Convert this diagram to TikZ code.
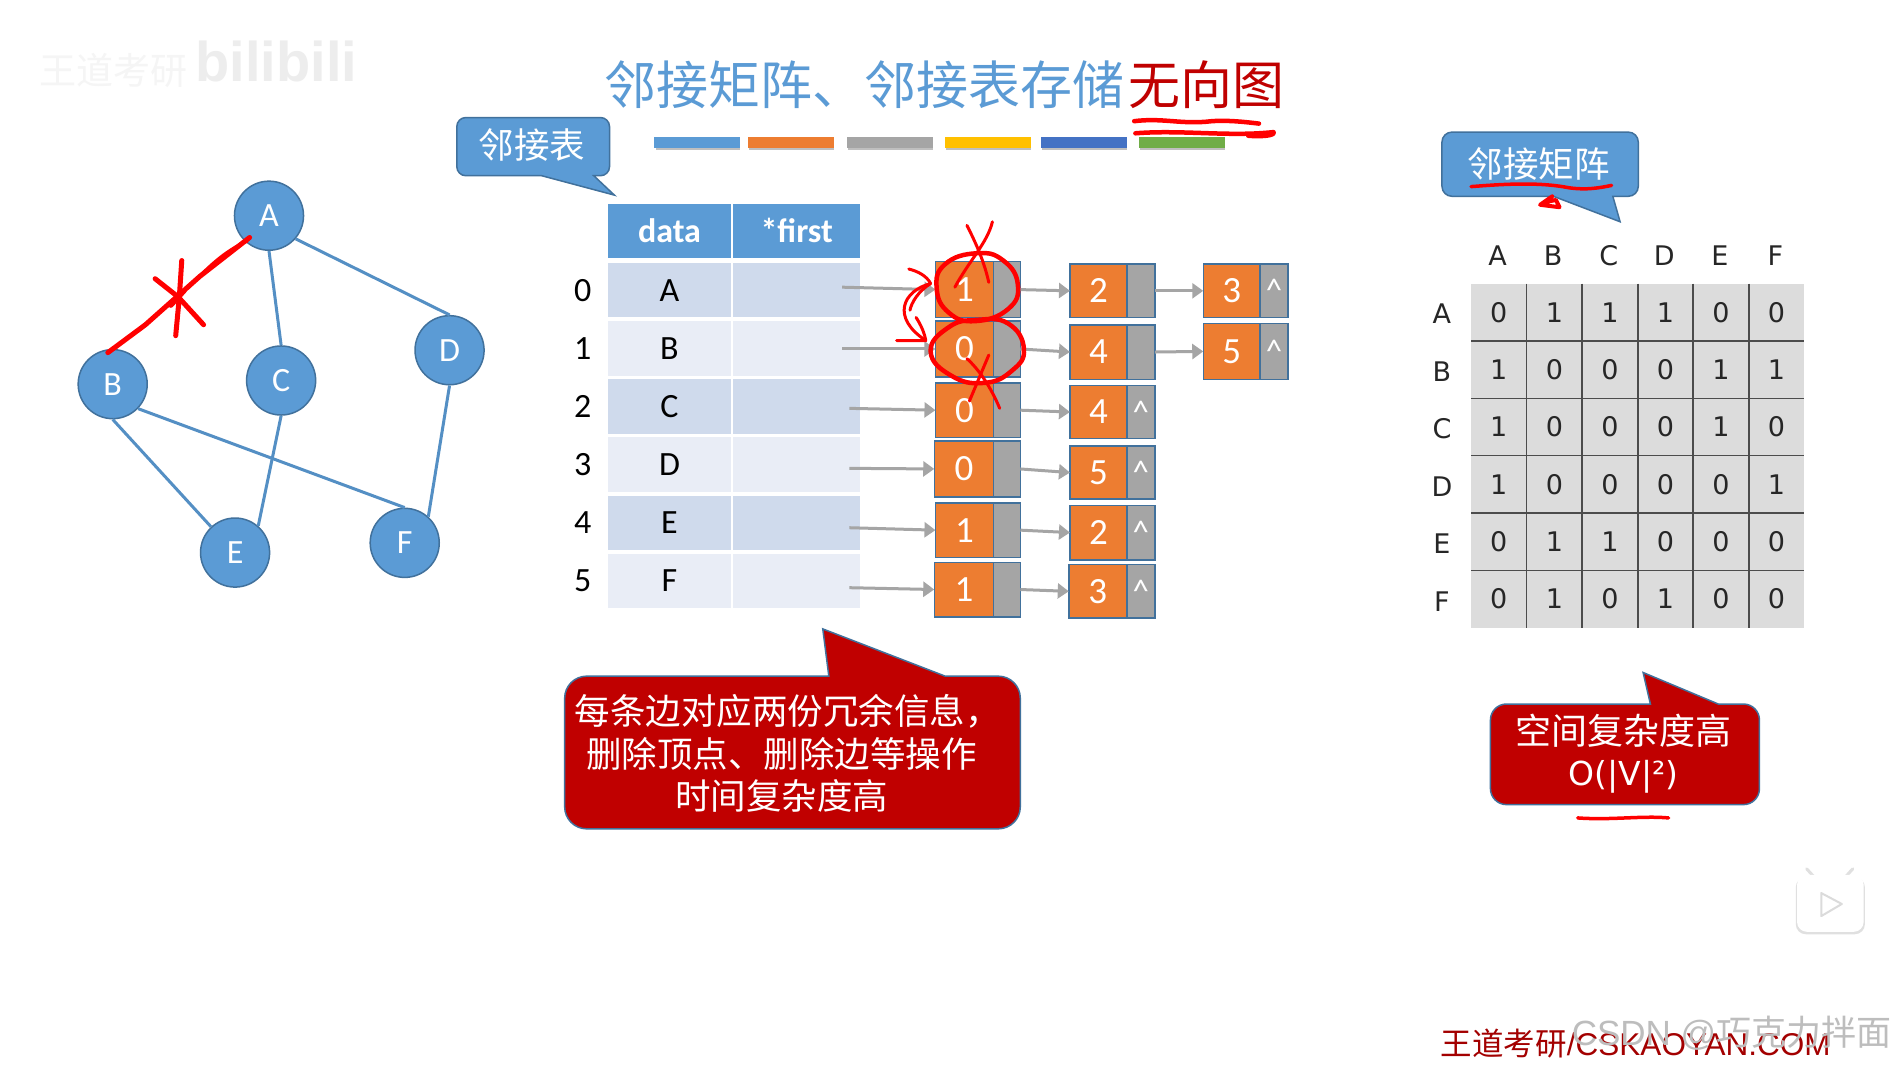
\documentclass[tikz,border=0pt]{standalone}
\usepackage{fontspec}
\usetikzlibrary{arrows.meta}
\setmainfont{Carlito}
\newfontfamily\cjk{Noto Sans CJK SC}
\newfontfamily\wide{DejaVu Sans}
\newfontfamily\arial{Liberation Sans}
\newcommand{\fs}[1]{\fontsize{#1}{#1}\selectfont}
\definecolor{pblue}{HTML}{5B9BD5}
\definecolor{pbord}{HTML}{41719C}
\definecolor{porange}{HTML}{ED7D31}
\definecolor{pgray}{HTML}{A5A5A5}
\definecolor{pred}{HTML}{C00000}
\definecolor{rowa}{HTML}{CFDAEC}
\definecolor{rowb}{HTML}{E9EDF6}
\definecolor{matcell}{HTML}{DCDCDC}
\def\u{1.2117pt}
\tikzset{
  x=1.2117pt,y=-1.2117pt,
  vertex/.style={circle,fill=pblue,draw=pbord,line width=1.5pt,minimum size=57*\u,inner sep=0pt,text=white,font=\fs{34}},
  edge/.style={draw=pblue!92!black,line width=3pt},
  cell/.style={anchor=north west,inner sep=0pt,outer sep=0pt,font=\fs{34}},
  headcell/.style={cell,fill=pblue,text=white,font=\bfseries\fs{34}},
  orangebox/.style={anchor=north west,fill=porange,draw=pbord,line width=1.5pt,inner sep=0pt,outer sep=0pt,text=white,font=\fs{37}},
  graybox/.style={anchor=north west,fill=pgray,draw=pbord,line width=1.5pt,inner sep=0pt,outer sep=0pt,text=white,font=\fs{33}},
  link/.style={draw=pgray,line width=3pt,-{Triangle[length=11pt,width=15pt]}},
  bluecall/.style={fill=pblue,draw=pbord,line width=1.5pt},
  redcall/.style={fill=pred,draw=pbord,line width=1.5pt},
  calltext/.style={text=white,font=\cjk\fs{35.5},inner sep=0pt,align=center},
  redink/.style={draw=red,line width=4.5pt,line cap=round,line join=round},
  matlabel/.style={font=\wide\fs{27},text=black!85,inner sep=0pt},
  colorbar/.style={inner sep=0pt,outer sep=0pt,anchor=north west,minimum width=71*\u,minimum height=9*\u},
}
\newcommand{\lnode}[8]{% name x-left y-top height value ptr orangew grayw
  \node[orangebox,minimum width=#7*\u,minimum height=#4*\u] (#1o) at (#2,#3) {#5};
  \node[graybox,minimum width=#8*\u,minimum height=#4*\u,anchor=north west] (#1g) at (#2+#7,#3) {#6};
}
\begin{document}
\begin{tikzpicture}
\useasboundingbox[fill=white] (0,0) rectangle (1568,879);

% watermark top left
\node[text=black!4,font=\cjk\fs{37},inner sep=0pt] (wmcn) at (94,58) {王道考研};
\node[text=black!7,font=\bfseries\arial\fs{56},inner sep=0pt] (wmbl) at (228,51) {bilibili};

% title
\node[anchor=west,inner sep=0pt,text=pblue,font=\cjk\fs{52}] (title) at (499,70) {邻接矩阵、邻接表存储};
\node[anchor=west,inner sep=0pt,text=pred,font=\cjk\fs{52}] (titleb) at (931,70) {无向图};

% colour bars
\foreach \xa/\c [count=\i] in {540/5B9BD5,617/ED7D31,699/A5A5A5,780/FFC000,859/4472C4,940/70AD47}{
  \definecolor{barc}{HTML}{\c}
  \fill[black!25] (\xa+1,122) rectangle (\xa+71,124);
  \node[colorbar,fill=barc] (bar\i) at (\xa,113) {};
}

% graph
\node[vertex] (A) at (222,178) {A};
\node[vertex] (B) at (93,317) {B};
\node[vertex] (C) at (232,314) {C};
\node[vertex] (D) at (371,289) {D};
\node[vertex] (E) at (194,456) {E};
\node[vertex] (F) at (334,448) {F};
\draw[edge] (A.-41) -- (D.north);
\draw[edge] (A.south) -- (C.north);
\draw[edge] (B.south) -- (E.133);
\draw[edge] (B.-44) -- (F.north);
\draw[edge] (C.south) -- (E.49);
\draw[edge] (D.south) -- (F.48);

% adjacency list table
\node[headcell,minimum width=101*\u,minimum height=45*\u] (hdata) at (502,168) {data};
\node[headcell,minimum width=105*\u,minimum height=45*\u] (hfirst) at (605,168) {*first};
\foreach \yy/\hh/\lab/\c [count=\i from 0] in {217/45/A/rowa,265/45/B/rowb,313/45/C/rowa,361/45/D/rowb,409/45/E/rowa,457/45/F/rowb}{
  \node[cell,fill=\c,minimum width=101*\u,minimum height=\hh*\u] (d\i) at (502,\yy) {\lab};
  \node[cell,fill=\c,minimum width=105*\u,minimum height=\hh*\u] (f\i) at (605,\yy) {};
  \node[inner sep=0pt,font=\fs{34}] (idx\i) at (481,\yy+22.5) {\i};
}

% list nodes: first column
\lnode{pa}{772}{216}{46}{1}{}{48}{22}
\lnode{pb}{772}{265}{46}{0}{}{48}{22}
\lnode{pc}{772}{316}{45}{0}{}{48}{22}
\lnode{pd}{771}{364}{46}{0}{}{49}{22}
\lnode{pe}{772}{415}{45}{1}{}{48}{22}
\lnode{pf}{771}{464}{45}{1}{}{49}{22}
% second column
\lnode{qa}{883}{218}{44}{2}{}{47}{23}
\lnode{qb}{883}{268}{45}{4}{}{47}{23}
\lnode{qc}{883}{318}{44}{4}{\textasciicircum}{47}{23}
\lnode{qd}{883}{368}{44}{5}{\textasciicircum}{47}{23}
\lnode{qe}{883}{417}{45}{2}{\textasciicircum}{47}{23}
\lnode{qf}{882}{466}{44}{3}{\textasciicircum}{48}{23}
% third column
\lnode{ra}{993}{218}{44}{3}{\textasciicircum}{47}{23}
\lnode{rb}{993}{267}{46}{5}{\textasciicircum}{47}{23}

% list links
\coordinate (sa) at (695,237);
\coordinate (sb) at (695,288);
\coordinate (sc) at (701,337);
\coordinate (sd) at (701,386.5);
\coordinate (se) at (701,435.5);
\coordinate (sf) at (701,485);
\foreach \n in {a,b,c,d,e,f}{
  \draw[link] (s\n) -- (p\n o.west);
  \draw[link] (p\n g.east) -- (q\n o.west);
}
\draw[link] (qag.east) -- (rao.west);
\draw[link] (qbg.east) -- (rbo.west);

% matrix
\foreach \l [count=\i from 0] in {A,B,C,D,E,F}{
  \node[matlabel] (ch\i) at (1236+\i*45.83,211) {\l};
  \node[matlabel] (rh\i) at (1190,259+\i*47.5) {\l};
}
\foreach \row [count=\r from 0] in {{0,1,1,1,0,0},{1,0,0,0,1,1},{1,0,0,0,1,0},{1,0,0,0,0,1},{0,1,1,0,0,0},{0,1,0,1,0,0}}{
  \foreach \v [count=\c from 0] in \row {
    \node[anchor=north west,fill=matcell,inner sep=0pt,outer sep=0pt,minimum width=45.83*\u,minimum height=47.33*\u,font=\wide\fs{27},text=black!85] (m\r-\c) at (1214+\c*45.83,234+\r*47.33) {\raisebox{-1.5pt}{\v}};
  }
}
\foreach \c in {1,...,5}{
  \draw[black!70,line width=1.8pt] (1214+\c*45.83,234) -- (1214+\c*45.83,518);
}
\foreach \r in {1,...,5}{
  \draw[black!70,line width=1.5pt] (1214,234+\r*47.33) -- (1489,234+\r*47.33);
}

% callouts
\draw[bluecall,rounded corners=9pt] (377,120) -- (377,97) -- (503,97) -- (503,145) [sharp corners] -- (490,145) -- (507,161) -- (447,145) [rounded corners=9pt] -- (377,145) -- cycle;
\node[calltext] (t1) at (439,120) {邻接表};
\draw[bluecall,rounded corners=10pt] (1190,135) -- (1190,109) -- (1352,109) -- (1352,162) [sharp corners] -- (1331,162) -- (1337,183) -- (1282,162) [rounded corners=10pt] -- (1190,162) -- cycle;
\node[calltext] (t2) at (1270,135) {邻接矩阵};
\draw[redcall,rounded corners=22pt] (466,620) -- (466,558) [sharp corners] -- (684,558) -- (679,519) -- (780,558) [rounded corners=22pt] -- (842,558) -- (842,684) -- (466,684) -- cycle;
\node[calltext] (t3) at (645,622) {\hspace*{12pt}\makebox[0pt]{每条边对应两份冗余信息，}\\[7pt]删除顶点、删除边等操作\\[7pt]时间复杂度高};
\draw[redcall,rounded corners=16pt] (1230,620) -- (1230,581) [sharp corners] -- (1362,581) -- (1356,555) -- (1418,581) [rounded corners=16pt] -- (1452,581) -- (1452,664) -- (1230,664) -- cycle;
\node[calltext,font=\cjk\fs{36}] (t4) at (1340,603) {空间复杂度高};
\node[text=white,font=\wide\fs{33},inner sep=0pt] (t5) at (1340,641) {O(|V|²)};

% play icon
\draw[black!12,line width=3pt,line cap=round] (1491,717) -- (1500,727);
\draw[black!12,line width=3pt,line cap=round] (1529,717) -- (1520,727);
\fill[black!12,rounded corners=10pt] (1482,724) rectangle (1539,771);
\fill[white,rounded corners=10pt] (1483,722) rectangle (1538,769);
\draw[black!14,line width=2pt,line join=round,fill=white] (1503,737) -- (1520,746) -- (1503,756) -- cycle;

% footer
\node[anchor=west,inner sep=0pt,text=pred!85!black,font=\arial\fs{31.5}] (ft) at (1189,861) {\cjk 王道考研\arial /CSKAOYAN.COM};
\node[anchor=west,inner sep=0pt,text=black!26,font=\arial\fs{35}] (ft2) at (1297,853) {CSDN @\cjk 巧克力拌面};

% red ink
\draw[redink,line width=5pt] (206,196) -- (165,228) -- (120,268) -- (89,291);
\draw[redink,line width=3pt] (204,199) .. controls (185,207) and (170,222) .. (155,238);
\draw[redink,line width=5pt] (150,215) -- (148,245) -- (145,277);
\draw[redink,line width=5pt] (128,230) -- (147,245) -- (168,268);
\draw[redink,line width=5pt] (141,252) -- (152,240);
\draw[redink] (936,100) .. controls (960,97) and (975,103) .. (1000,100) .. controls (1015,99) and (1030,101) .. (1039,102);
\draw[redink] (937,110) .. controls (975,107) and (1015,113) .. (1051,109) .. controls (1053,112) and (1040,113) .. (1030,112);
\draw[redink,line width=3.5pt] (1214,154) .. controls (1240,152) and (1270,150) .. (1295,155) .. controls (1310,157) and (1320,155) .. (1330,153);
\draw[redink,line width=4pt] (1281,162) -- (1271,169) -- (1287,171) -- (1284,165) -- (1275,167);
\draw[redink,line width=3.5pt] (1302,675) .. controls (1330,677) and (1355,673) .. (1377,675);
% circles
\draw[redink] plot[smooth cycle,tension=.8] coordinates {(806,209) (828,215) (840,235) (832,255) (805,265) (783,258) (773,238) (780,218)};
\draw[redink] plot[smooth cycle,tension=.8] coordinates {(783,270) (806,264) (832,267) (845,288) (835,306) (812,316) (785,310) (768,290)};
% crosses
\draw[redink,line width=3pt] (819,183) .. controls (815,200) and (800,215) .. (788,237);
\draw[redink,line width=3pt] (798,186) .. controls (805,200) and (812,215) .. (816,233);
\draw[redink,line width=3pt] (816,293) -- (800,331);
\draw[redink,line width=3pt] (798,296) .. controls (808,305) and (818,320) .. (825,337);
% curved arrows
\draw[redink,line width=3pt] (768,234) .. controls (745,240) and (735,262) .. (764,281);
\draw[redink,line width=3pt] (750,222) .. controls (758,224) and (765,228) .. (768,234) .. controls (758,240) and (752,250) .. (751,256);
\draw[redink,line width=3pt] (756,262) .. controls (760,268) and (763,275) .. (764,281) -- (740,281);
\end{tikzpicture}
\end{document}
